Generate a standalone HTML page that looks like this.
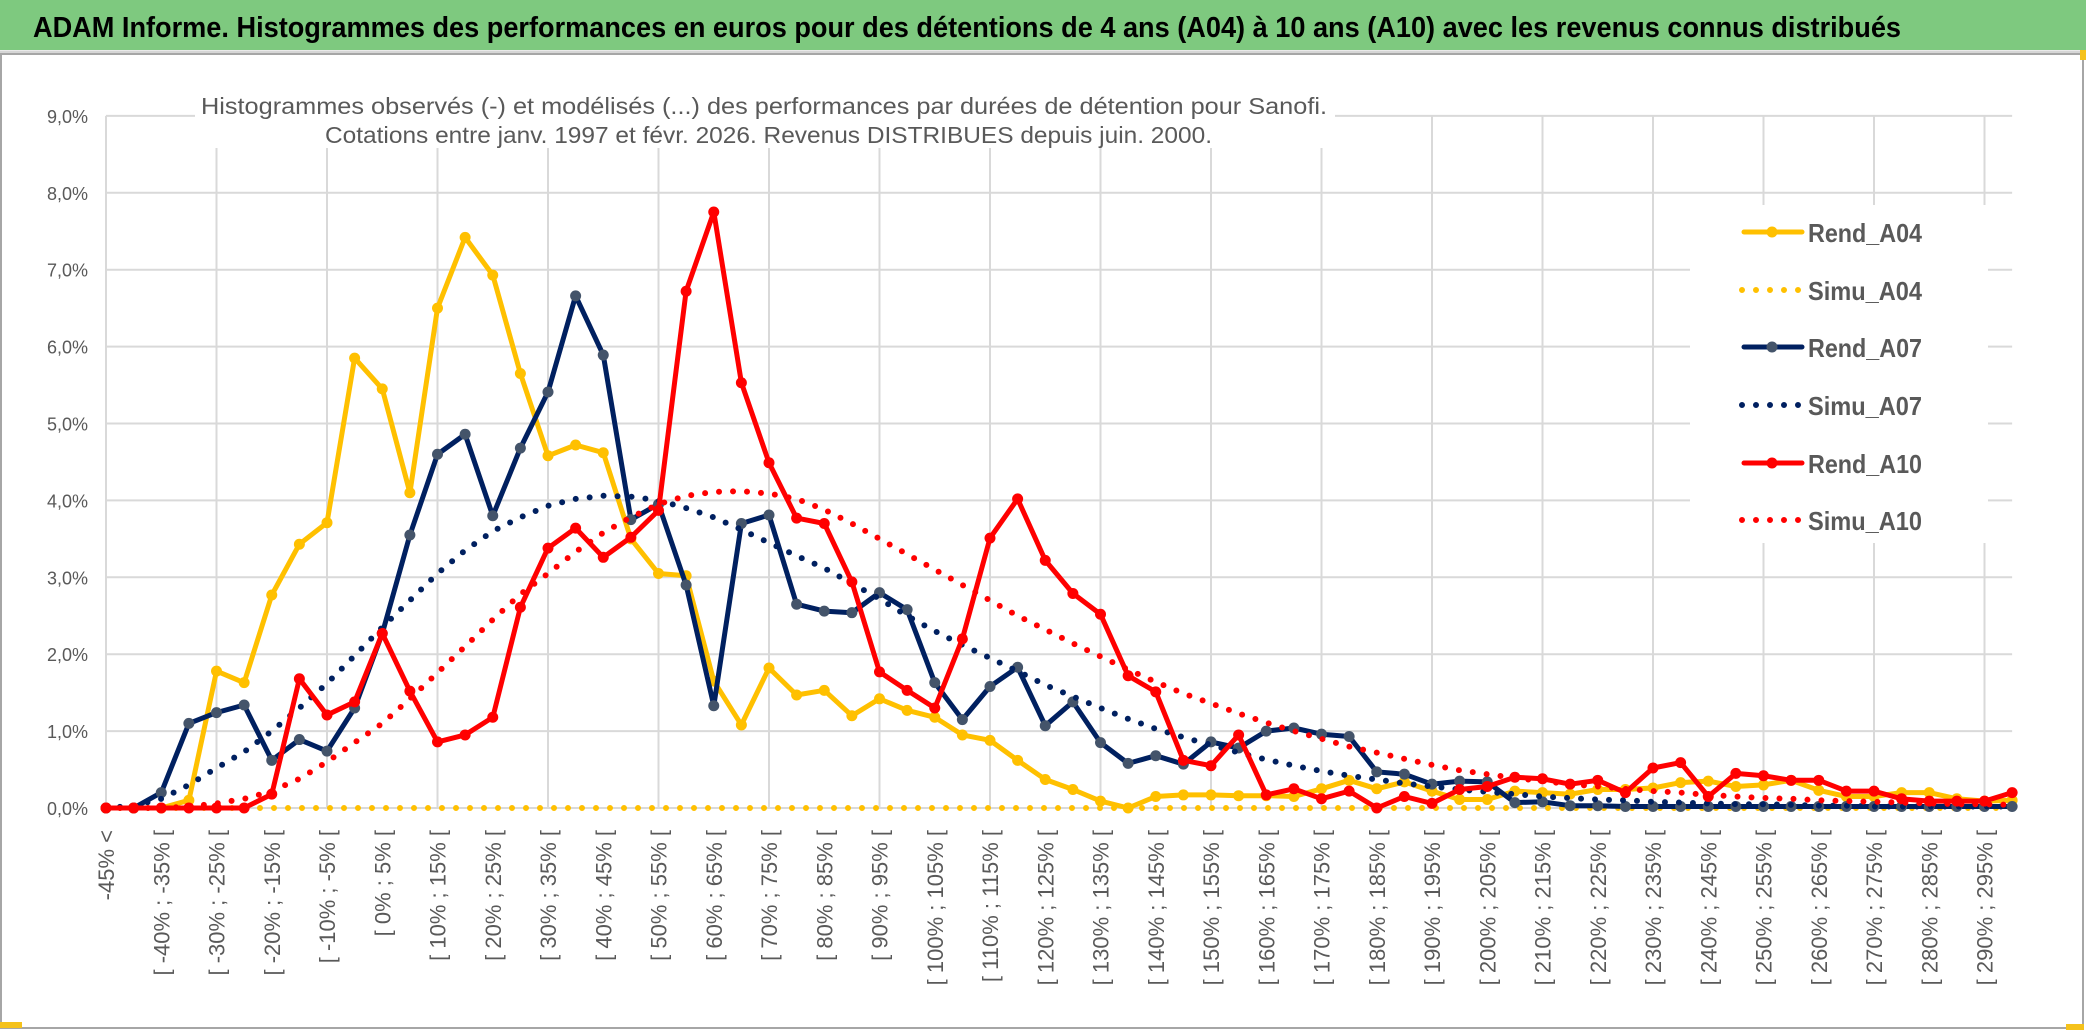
<!DOCTYPE html>
<html><head><meta charset="utf-8"><style>
html,body{margin:0;padding:0;background:#fff;}
body{width:2086px;height:1031px;overflow:hidden;font-family:"Liberation Sans",sans-serif;}
svg{display:block;}
</style></head><body>
<svg id="chart" width="2086" height="1031" viewBox="0 0 2086 1031" xmlns="http://www.w3.org/2000/svg">
  <rect x="0" y="0" width="2086" height="1031" fill="#fff"/>
  <rect x="0" y="0" width="2086" height="50" fill="#7ec97f"/>
  <line x1="0" y1="52" x2="2086" y2="52" stroke="#d6d6d6" stroke-width="3"/>
  <text x="33" y="37" font-family="Liberation Sans, sans-serif" font-weight="bold" font-size="29" fill="#000" textLength="1868" lengthAdjust="spacingAndGlyphs">ADAM Informe. Histogrammes des performances en euros pour des détentions de 4 ans (A04) à 10 ans (A10) avec les revenus connus distribués</text>
  <rect x="1" y="54" width="2082" height="974" fill="none" stroke="#a6a6a6" stroke-width="2"/>
  <rect x="0" y="1022" width="22" height="6" fill="#f5c21b"/>
  <rect x="2080" y="50" width="6" height="10" fill="#f5c21b"/>
  <rect x="2066" y="1024" width="18" height="6" fill="#f5c21b"/>
  <g id="grid"></g>
  <g id="yaxis"></g>
  <g id="xaxis"></g>
  <g id="series"></g>
  <rect x="195" y="78" width="1140" height="70" fill="#fff"/>
  <text x="201" y="114" font-size="23" fill="#595959" textLength="1126" lengthAdjust="spacingAndGlyphs">Histogrammes observés (-) et modélisés (...) des performances par durées de détention pour Sanofi.</text>
  <text x="325" y="143" font-size="23" fill="#595959" textLength="887" lengthAdjust="spacingAndGlyphs">Cotations entre janv. 1997 et févr. 2026. Revenus DISTRIBUES depuis juin. 2000.</text>
  <g id="legend"></g>
</svg>
<script>
const categories = (function(){ const c=["-45% <"]; for(let a=-45;a<300;a+=5){c.push("[ "+a+"% ; "+(a+5)+"% [");} return c; })();
const tickValues = [0,1,2,3,4,5,6,7,8,9];
const tickLabels = ["0,0%","1,0%","2,0%","3,0%","4,0%","5,0%","6,0%","7,0%","8,0%","9,0%"];
const seriesNames = ["Rend_A04","Simu_A04","Rend_A07","Simu_A07","Rend_A10","Simu_A10"];
const rendA04 = [0,0,0,0.1,1.78,1.63,2.77,3.43,3.71,5.85,5.45,4.1,6.5,7.42,6.93,5.65,4.58,4.72,4.62,3.5,3.05,3.02,1.65,1.08,1.82,1.47,1.53,1.2,1.42,1.27,1.18,0.95,0.88,0.62,0.37,0.24,0.09,0.0,0.15,0.17,0.17,0.16,0.16,0.15,0.25,0.36,0.25,0.34,0.22,0.11,0.11,0.22,0.2,0.18,0.24,0.24,0.26,0.33,0.35,0.28,0.3,0.36,0.23,0.15,0.15,0.2,0.2,0.12,0.09,0.1];
const simuA04 = [0,0,0,0,0,0,0,0,0,0,0,0,0,0,0,0,0,0,0,0,0,0,0,0,0,0,0,0,0,0,0,0,0,0,0,0,0,0,0,0,0,0,0,0,0,0,0,0,0,0,0,0,0,0,0,0,0,0,0,0,0,0,0,0,0,0,0,0,0,0];
const rendA07 = [0,0,0.2,1.1,1.24,1.34,0.62,0.89,0.74,1.3,2.27,3.55,4.6,4.86,3.8,4.68,5.41,6.66,5.89,3.75,3.95,2.9,1.33,3.7,3.81,2.65,2.56,2.54,2.8,2.58,1.63,1.15,1.58,1.83,1.07,1.38,0.85,0.58,0.68,0.57,0.86,0.78,1.0,1.04,0.96,0.93,0.47,0.44,0.31,0.35,0.34,0.07,0.08,0.03,0.03,0.02,0.02,0.02,0.02,0.02,0.02,0.02,0.02,0.02,0.02,0.02,0.02,0.02,0.02,0.02];
const simuA07 = [0,0.03,0.12,0.3,0.52,0.73,1.0,1.3,1.62,1.98,2.35,2.7,3.05,3.35,3.6,3.78,3.93,4.02,4.06,4.05,4.0,3.9,3.78,3.62,3.45,3.28,3.12,2.92,2.72,2.5,2.3,2.12,1.95,1.78,1.6,1.45,1.3,1.16,1.03,0.92,0.82,0.72,0.63,0.55,0.48,0.42,0.37,0.32,0.28,0.24,0.21,0.18,0.15,0.13,0.11,0.1,0.08,0.07,0.06,0.05,0.05,0.04,0.03,0.03,0.02,0.02,0.02,0.02,0.02,0.02];
const rendA10 = [0,0,0,0,0,0,0.18,1.68,1.21,1.38,2.27,1.52,0.86,0.95,1.18,2.61,3.38,3.64,3.26,3.52,3.87,6.72,7.75,5.53,4.49,3.77,3.7,2.94,1.77,1.53,1.3,2.2,3.51,4.02,3.22,2.79,2.52,1.72,1.51,0.62,0.55,0.95,0.17,0.25,0.12,0.22,0.0,0.15,0.06,0.24,0.28,0.4,0.38,0.31,0.36,0.2,0.52,0.59,0.15,0.45,0.42,0.36,0.36,0.22,0.22,0.12,0.09,0.09,0.09,0.2];
const simuA10 = [0,0,0,0.02,0.06,0.12,0.22,0.38,0.6,0.85,1.1,1.42,1.76,2.1,2.45,2.78,3.05,3.33,3.58,3.78,3.95,4.06,4.11,4.12,4.09,4.02,3.88,3.7,3.5,3.3,3.1,2.9,2.7,2.5,2.32,2.14,1.97,1.8,1.64,1.49,1.36,1.23,1.11,1.0,0.9,0.8,0.72,0.64,0.56,0.49,0.44,0.39,0.35,0.31,0.28,0.25,0.22,0.2,0.17,0.15,0.13,0.12,0.1,0.09,0.08,0.07,0.06,0.05,0.05,0.04];

const NS="http://www.w3.org/2000/svg";
const X0=106, DX=27.625, Y0=808, DY=76.9;
function xPos(i){return X0+i*DX;}
function yPos(v){return Y0-v*DY;}
function mk(tag,attrs,parent){const e=document.createElementNS(NS,tag);for(const k in attrs)e.setAttribute(k,attrs[k]);parent.appendChild(e);return e;}
const grid=document.getElementById('grid'), yax=document.getElementById('yaxis'), xax=document.getElementById('xaxis'), ser=document.getElementById('series'), leg=document.getElementById('legend');
const xEnd=xPos(categories.length-1);
tickValues.forEach((v,k)=>{
  const l=mk('line',{x1:X0,x2:xEnd,y1:yPos(v),y2:yPos(v),stroke:'#d9d9d9','stroke-width':2},grid);
  
  
  const t=mk('text',{x:88,y:yPos(v)+7,'text-anchor':'end','font-size':18,fill:'#595959'},yax);
  t.textContent=tickLabels[k];
  
  
});
categories.forEach((c,i)=>{
  if(i%4===0){
    const l=mk('line',{x1:xPos(i),x2:xPos(i),y1:yPos(9),y2:Y0,stroke:'#d9d9d9','stroke-width':2},grid);
    
    
  }
  if(i%2===0){
    const t=mk('text',{x:0,y:0,'text-anchor':'end','font-size':22,fill:'#595959',transform:'translate('+(xPos(i)+8)+',830) rotate(-90)'},xax);
    t.textContent=c;
    
    
  }
});
const styles=[
  {data:rendA04,color:'#ffc000',marker:'#ffc000',dotted:false,name:'rend-a04'},
  {data:simuA04,color:'#ffc000',dotted:true,name:'simu-a04'},
  {data:rendA07,color:'#002060',marker:'#44546a',dotted:false,name:'rend-a07'},
  {data:simuA07,color:'#002060',dotted:true,name:'simu-a07'},
  {data:rendA10,color:'#ff0000',marker:'#ff0000',dotted:false,name:'rend-a10'},
  {data:simuA10,color:'#ff0000',dotted:true,name:'simu-a10'}
];
styles.forEach(s=>{
  const g=mk('g',{},ser);
  
  
  const pts=s.data.map((v,i)=>xPos(i).toFixed(1)+','+yPos(v).toFixed(1)).join(' ');
  const attrs={points:pts,fill:'none',stroke:s.color,'stroke-linejoin':'round','stroke-linecap':'round'};
  if(s.dotted){attrs['stroke-width']=6;attrs['stroke-dasharray']='0 14';}else{attrs['stroke-width']=5;}
  const pl=mk('polyline',attrs,g);
  
  
  if(!s.dotted){
    s.data.forEach((v,i)=>{
      const c=mk('circle',{cx:xPos(i),cy:yPos(v),r:5.5,fill:s.marker},g);
      
      
    });
  }
});
// legend
mk('rect',{x:1690,y:205,width:298,height:338,fill:'#fff'},leg);
const legY=[232,290,347,405,463,520];
styles.forEach((s,k)=>{
  const g=mk('g',{},leg);
  
  
  const y=legY[k];
  if(s.dotted){
    mk('line',{x1:1742,x2:1802,y1:y,y2:y,stroke:s.color,'stroke-width':6,'stroke-dasharray':'0 14','stroke-linecap':'round'},g);
  }else{
    mk('line',{x1:1744,x2:1802,y1:y,y2:y,stroke:s.color,'stroke-width':5,'stroke-linecap':'round'},g);
    mk('circle',{cx:1772,cy:y,r:5.5,fill:s.marker},g);
  }
  const t=mk('text',{x:1808,y:y+10,'font-size':26,fill:'#595959','font-weight':'bold',textLength:114,lengthAdjust:'spacingAndGlyphs'},g);
  t.textContent=seriesNames[k];
  
  
});
</script>
</body></html>
